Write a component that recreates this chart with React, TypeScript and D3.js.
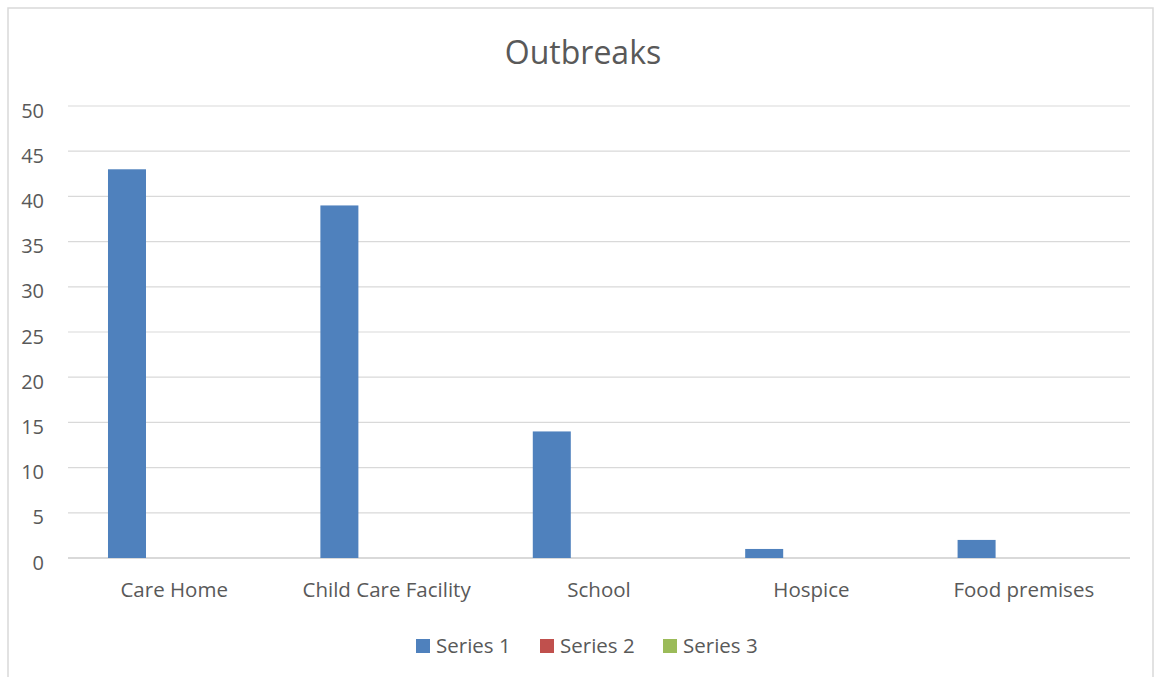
import React from "react";
import * as d3 from "d3";

// Chart data
const categories = ["Care Home", "Child Care Facility", "School", "Hospice", "Food premises"];
const seriesNames = ["Series 1", "Series 2", "Series 3"];
const series1 = [43, 39, 14, 1, 2];
const series2 = [0, 0, 0, 0, 0];
const series3 = [0, 0, 0, 0, 0];
const yTicks = [0, 5, 10, 15, 20, 25, 30, 35, 40, 45, 50];
const seriesColors = ["#4f81bd", "#c0504d", "#9bbb59"];

const W = 1154;
const H = 677;
const FONT = "'Open Sans', Lato, sans-serif";
const TEXT = "#595959";
const GRID = "#d9d9d9";

export default function App() {
  const allSeries = [series1, series2, series3];
  const plot = { left: 68, right: 1130, top: 106, bottom: 558 };

  const x = d3.scaleBand<string>().domain(categories).range([plot.left, plot.right]).padding(0);
  const xInner = d3
    .scaleBand<string>()
    .domain(seriesNames)
    .range([0, x.bandwidth()])
    .paddingInner(0.195)
    .paddingOuter(0.847);
  const y = d3.scaleLinear().domain([0, 50]).range([plot.bottom, plot.top]);

  // Legend layout
  const legendItems = [
    { name: seriesNames[0], sx: 416 },
    { name: seriesNames[1], sx: 540 },
    { name: seriesNames[2], sx: 663 },
  ];

  return (
    <svg width={W} height={H} style={{ position: "absolute", left: 0, top: 0 }} fontFamily={FONT}>
      <rect x={0} y={0} width={W} height={H} fill="#ffffff" />
      <rect x={8} y={8} width={1145} height={680} fill="#ffffff" stroke={GRID} strokeWidth={1.5} />

      <text x={583} y={64} textAnchor="middle" fontSize={32} fill={TEXT}>
        Outbreaks
      </text>

      {yTicks.map((t) => (
        <g key={t}>
          <line
            x1={plot.left}
            x2={plot.right}
            y1={y(t)}
            y2={y(t)}
            stroke={GRID}
            strokeWidth={t === 0 ? 1.8 : 1.2}
          />
          <text x={44} y={y(t) + 11.5} textAnchor="end" fontSize={20} fill={TEXT}>
            {t}
          </text>
        </g>
      ))}

      {allSeries.map((vals, si) =>
        vals.map((v, ci) => (
          <rect
            key={`${si}-${ci}`}
            x={(x(categories[ci]) ?? 0) + (xInner(seriesNames[si]) ?? 0)}
            y={y(v)}
            width={xInner.bandwidth()}
            height={y(0) - y(v)}
            fill={seriesColors[si]}
          />
        ))
      )}

      {categories.map((c) => (
        <text
          key={c}
          x={(x(c) ?? 0) + x.bandwidth() / 2}
          y={597}
          textAnchor="middle"
          fontSize={20.5}
          fill={TEXT}
        >
          {c}
        </text>
      ))}

      {legendItems.map((it, i) => (
        <g key={it.name}>
          <rect x={it.sx} y={639} width={14} height={14} fill={seriesColors[i]} />
          <text x={it.sx + 20} y={653} fontSize={20.5} fill={TEXT}>
            {it.name}
          </text>
        </g>
      ))}
    </svg>
  );
}
